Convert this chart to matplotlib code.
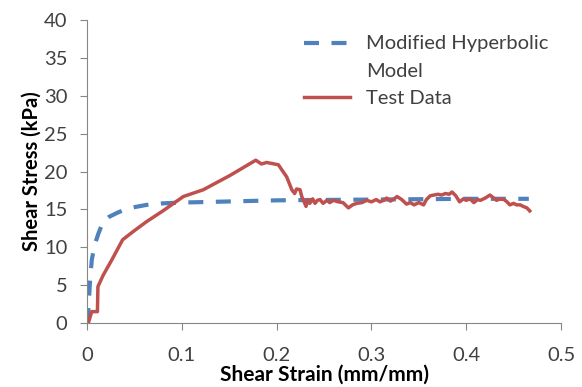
import matplotlib.pyplot as plt
import numpy as np
from matplotlib.legend_handler import HandlerLine2D

plt.rcParams['font.family'] = ['Lato', 'DejaVu Sans']

# model curve
model_strain = [0, 0.0014, 0.003, 0.005, 0.008, 0.012, 0.017, 0.023, 0.031, 0.04,
                0.05, 0.063, 0.08, 0.098, 0.133, 0.2, 0.3, 0.4, 0.466]
model_stress = [0, 1.5, 5.2, 8.3, 10.3, 11.8, 13.4, 14.0, 14.5, 15.0,
                15.3, 15.6, 15.8, 15.9, 16.0, 16.2, 16.3, 16.4, 16.4]

# test data (red line)
test_strain = [0, 0.0014, 0.005, 0.011, 0.0115, 0.017, 0.026, 0.0376, 0.05, 0.063,
               0.08, 0.1016, 0.1227, 0.151, 0.178, 0.184, 0.1895, 0.2018, 0.2106,
               0.216, 0.219, 0.221, 0.2247, 0.2265, 0.229, 0.231, 0.233, 0.235,
               0.238, 0.2405, 0.243, 0.2458, 0.249, 0.253, 0.256, 0.26, 0.265,
               0.27, 0.2757, 0.28, 0.2845, 0.29, 0.295, 0.30, 0.305, 0.309,
               0.313, 0.316, 0.32, 0.324, 0.327, 0.332, 0.337, 0.341, 0.345,
               0.35, 0.355, 0.358, 0.362, 0.366, 0.37, 0.374, 0.378, 0.382,
               0.385, 0.389, 0.393, 0.397, 0.40, 0.404, 0.408, 0.412, 0.415,
               0.42, 0.425, 0.429, 0.432, 0.436, 0.44, 0.443, 0.446, 0.45,
               0.453, 0.457, 0.46, 0.464, 0.467]
test_stress = [0, 0, 1.5, 1.5, 4.8, 6.3, 8.3, 11.0, 12.2, 13.4,
               14.8, 16.7, 17.6, 19.5, 21.5, 21.0, 21.2, 20.9, 19.3,
               17.6, 17.1, 17.7, 17.6, 16.7, 16.0, 15.4, 16.3, 15.8,
               16.4, 15.8, 16.2, 16.3, 15.8, 16.2, 15.9, 16.2, 16.0,
               15.9, 15.2, 15.6, 15.8, 15.9, 16.2, 16.0, 16.3, 16.0,
               16.2, 16.5, 16.1, 16.4, 16.7, 16.3, 15.7, 15.9, 15.6,
               15.9, 15.6, 16.3, 16.8, 16.9, 17.0, 16.9, 17.1, 17.0,
               17.3, 16.8, 16.0, 16.4, 16.2, 16.4, 15.9, 16.3, 16.2,
               16.5, 16.9, 16.5, 16.2, 16.4, 16.3, 16.0, 15.6, 15.8,
               15.6, 15.6, 15.4, 15.2, 14.8]

blue = '#4F81BD'
red = '#C0504D'
grey = '#868686'


class FirstLineHandler(HandlerLine2D):
    # put the legend line next to the first line of a two-line label
    def create_artists(self, legend, orig_handle, xdescent, ydescent, width,
                       height, fontsize, trans):
        arts = super().create_artists(legend, orig_handle, xdescent, ydescent,
                                      width, height, fontsize, trans)
        for a in arts:
            a.set_ydata(np.asarray(a.get_ydata()) + 0.75 * fontsize)
        return arts


fig = plt.figure(figsize=(5.82, 3.87), dpi=100)
ax = fig.add_axes([0.1495, 0.1654, 0.8145, 0.7826])

model_line, = ax.plot(model_strain, model_stress, color=blue, lw=3.0, dashes=(3.6, 3.0),
                      label='Modified Hyperbolic\nModel')
ax.plot(test_strain, test_stress, color=red, lw=2.5, label='Test Data')

ax.set_xlim(0, 0.5)
ax.set_ylim(0, 40)
ax.set_xticks([0, 0.1, 0.2, 0.3, 0.4, 0.5])
ax.set_xticklabels(['0', '0.1', '0.2', '0.3', '0.4', '0.5'])
ax.set_yticks(range(0, 41, 5))

for s in ['top', 'right']:
    ax.spines[s].set_visible(False)
for s in ['left', 'bottom']:
    ax.spines[s].set_color(grey)
    ax.spines[s].set_linewidth(0.8)
ax.tick_params(colors=grey, labelcolor='#404040', labelsize=14.5, length=5, width=0.8)
ax.tick_params(axis='x', pad=12)
ax.tick_params(axis='y', pad=9)

ax.set_xlabel('Shear Strain (mm/mm)', fontsize=15, fontweight='bold', labelpad=1)
ax.set_ylabel('Shear Stress (kPa)', fontsize=14.5, fontweight='bold', labelpad=2)

leg = ax.legend(loc='upper left', bbox_to_anchor=(0.419, 1.01), frameon=False,
                fontsize=14.5, handlelength=2.3, handletextpad=0.8, labelspacing=0.45,
                handler_map={model_line: FirstLineHandler()})
for t in leg.get_texts():
    t.set_linespacing(1.8)
    t.set_color('#404040')

fig.savefig('out.png', dpi=100)
